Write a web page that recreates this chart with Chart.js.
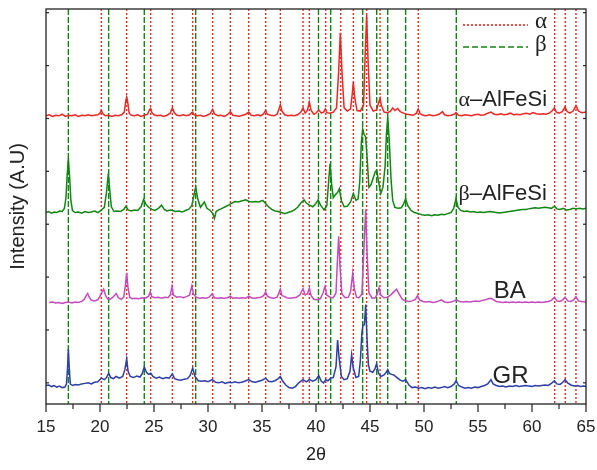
<!DOCTYPE html>
<html>
<head>
<meta charset="utf-8">
<title>XRD patterns</title>
<script src="https://cdn.jsdelivr.net/npm/chart.js"></script>
<style>
  body { margin: 0; background: #fff; }
</style>
</head>
<body>
<canvas id="xrd" width="597" height="470"></canvas>
<script>
// 2theta / intensity pairs (intensity in offset units)
const alphaPts = [
  [15.0,5.05],[15.3,5.07],[15.6,5.04],[15.9,5.06],[16.2,5.05],[16.5,5.08],[16.8,5.04],[17.1,5.06],[17.4,5.05],[17.7,5.07],
  [18.0,5.04],[18.3,5.06],[18.6,5.05],[18.9,5.07],[19.2,5.05],[19.5,5.06],[19.8,5.07],[20.0,5.10],[20.12,5.15],[20.3,5.08],
  [20.5,5.05],[20.8,5.06],[21.1,5.04],[21.4,5.06],[21.7,5.05],[22.0,5.07],[22.25,5.12],[22.4,5.35],[22.47,5.40],[22.55,5.33],
  [22.7,5.10],[22.9,5.06],[23.2,5.05],[23.5,5.07],[23.8,5.04],[24.1,5.06],[24.4,5.08],[24.6,5.17],[24.69,5.19],[24.8,5.11],
  [25.0,5.07],[25.3,5.05],[25.6,5.06],[25.9,5.04],[26.2,5.06],[26.5,5.10],[26.7,5.20],[26.85,5.12],[27.1,5.06],[27.4,5.05],
  [27.7,5.07],[28.0,5.05],[28.3,5.07],[28.5,5.11],[28.58,5.12],[28.7,5.07],[29.0,5.05],[29.3,5.06],[29.6,5.04],[29.9,5.06],
  [30.2,5.09],[30.43,5.17],[30.6,5.09],[30.9,5.05],[31.2,5.06],[31.5,5.04],[31.8,5.07],[32.07,5.13],[32.3,5.06],[32.6,5.05],
  [32.9,5.04],[33.2,5.06],[33.5,5.08],[33.77,5.12],[34.0,5.06],[34.3,5.05],[34.6,5.07],[34.9,5.05],[35.15,5.09],[35.34,5.15],
  [35.5,5.08],[35.8,5.06],[36.1,5.05],[36.4,5.08],[36.6,5.20],[36.7,5.26],[36.85,5.14],[37.1,5.07],[37.4,5.05],[37.7,5.06],
  [38.0,5.05],[38.3,5.07],[38.6,5.12],[38.8,5.20],[39.0,5.10],[39.2,5.15],[39.38,5.31],[39.55,5.15],[39.8,5.08],[40.0,5.10],
  [40.25,5.16],[40.5,5.10],[40.7,5.12],[40.86,5.18],[41.0,5.11],[41.3,5.10],[41.6,5.12],[41.9,5.20],[42.1,5.90],[42.25,6.62],
  [42.4,5.90],[42.6,5.20],[42.9,5.14],[43.2,5.18],[43.35,5.45],[43.46,5.69],[43.58,5.40],[43.8,5.15],[44.1,5.14],[44.4,5.25],
  [44.55,6.20],[44.69,6.96],[44.82,6.10],[45.0,5.25],[45.3,5.14],[45.6,5.16],[45.8,5.30],[45.93,5.38],[46.05,5.25],[46.3,5.12],
  [46.6,5.11],[46.9,5.14],[47.1,5.20],[47.3,5.15],[47.56,5.19],[47.8,5.13],[48.1,5.10],[48.4,5.08],[48.7,5.07],[49.0,5.06],
  [49.3,5.10],[49.47,5.18],[49.65,5.09],[49.9,5.06],[50.2,5.05],[50.5,5.07],[50.8,5.05],[51.1,5.06],[51.4,5.08],[51.7,5.13],
  [51.9,5.07],[52.2,5.05],[52.5,5.06],[52.8,5.08],[52.96,5.11],[53.2,5.06],[53.5,5.05],[53.8,5.07],[54.1,5.06],[54.4,5.05],
  [54.7,5.07],[55.0,5.08],[55.3,5.06],[55.6,5.07],[55.9,5.10],[56.2,5.12],[56.5,5.08],[56.8,5.07],[57.1,5.09],[57.4,5.07],
  [57.7,5.08],[58.0,5.10],[58.3,5.07],[58.6,5.08],[58.9,5.07],[59.2,5.09],[59.5,5.10],[59.8,5.08],[60.1,5.11],[60.4,5.09],
  [60.7,5.08],[61.0,5.09],[61.3,5.08],[61.6,5.10],[61.9,5.15],[62.07,5.20],[62.25,5.12],[62.5,5.10],[62.8,5.13],[63.06,5.22],
  [63.25,5.13],[63.5,5.10],[63.8,5.14],[64.07,5.24],[64.3,5.14],[64.6,5.11],[65.0,5.12]
];
const betaPts = [
  [15.0,3.22],[15.25,3.24],[15.5,3.21],[15.75,3.23],[16.0,3.22],[16.25,3.25],[16.5,3.24],[16.7,3.30],[16.85,3.50],[16.95,3.90],
  [17.07,4.24],[17.2,3.85],[17.3,3.45],[17.45,3.26],[17.7,3.22],[18.0,3.23],[18.3,3.21],[18.6,3.24],[18.9,3.22],[19.2,3.23],
  [19.5,3.25],[19.8,3.22],[20.1,3.26],[20.4,3.32],[20.6,3.60],[20.77,3.96],[20.9,3.65],[21.05,3.33],[21.3,3.24],[21.6,3.25],
  [21.9,3.24],[22.2,3.28],[22.4,3.34],[22.6,3.27],[22.9,3.25],[23.2,3.27],[23.5,3.26],[23.8,3.33],[24.04,3.47],[24.25,3.38],
  [24.5,3.32],[24.8,3.28],[25.1,3.26],[25.4,3.30],[25.7,3.36],[25.95,3.28],[26.2,3.25],[26.5,3.27],[26.7,3.26],[27.0,3.24],
  [27.3,3.25],[27.6,3.23],[27.9,3.26],[28.2,3.28],[28.5,3.35],[28.7,3.55],[28.86,3.70],[29.05,3.48],[29.3,3.32],[29.66,3.42],
  [29.9,3.30],[30.2,3.26],[30.45,3.20],[30.6,3.11],[30.75,3.24],[31.0,3.27],[31.3,3.30],[31.6,3.33],[31.9,3.36],[32.2,3.40],
  [32.5,3.43],[32.8,3.42],[33.1,3.44],[33.5,3.46],[33.8,3.43],[34.1,3.42],[34.4,3.43],[34.7,3.42],[35.06,3.45],[35.3,3.40],
  [35.6,3.33],[35.9,3.28],[36.2,3.25],[36.5,3.24],[36.8,3.22],[37.1,3.20],[37.4,3.22],[37.7,3.24],[38.0,3.27],[38.3,3.32],
  [38.6,3.40],[38.9,3.46],[39.1,3.40],[39.4,3.36],[39.7,3.33],[39.95,3.38],[40.2,3.46],[40.45,3.35],[40.75,3.27],[41.0,3.35],
  [41.15,3.75],[41.3,4.14],[41.45,3.75],[41.6,3.50],[41.8,3.56],[42.0,3.60],[42.16,3.67],[42.35,3.45],[42.6,3.33],[42.9,3.34],
  [43.2,3.42],[43.46,3.58],[43.7,3.45],[43.9,3.48],[44.05,3.80],[44.2,4.55],[44.32,4.80],[44.45,4.70],[44.6,4.65],[44.75,4.20],
  [44.9,3.70],[45.1,3.75],[45.3,3.88],[45.5,4.00],[45.62,4.02],[45.8,3.80],[46.0,3.58],[46.2,3.70],[46.4,4.10],[46.52,4.70],
  [46.64,5.02],[46.78,4.60],[46.95,3.85],[47.1,3.45],[47.3,3.32],[47.6,3.30],[47.9,3.31],[48.1,3.38],[48.3,3.48],[48.5,3.35],
  [48.8,3.26],[49.1,3.22],[49.5,3.20],[49.8,3.18],[50.1,3.17],[50.4,3.18],[50.7,3.16],[51.0,3.18],[51.3,3.17],[51.6,3.19],
  [51.9,3.18],[52.2,3.20],[52.5,3.22],[52.75,3.30],[52.96,3.48],[53.15,3.32],[53.4,3.26],[53.7,3.24],[54.0,3.25],[54.3,3.23],
  [54.6,3.24],[54.9,3.22],[55.2,3.23],[55.5,3.22],[55.8,3.23],[56.1,3.24],[56.4,3.23],[56.7,3.22],[57.0,3.21],[57.3,3.22],
  [57.6,3.23],[57.9,3.24],[58.2,3.25],[58.5,3.26],[58.8,3.27],[59.1,3.28],[59.4,3.28],[59.7,3.29],[60.0,3.30],[60.3,3.31],
  [60.6,3.30],[60.9,3.31],[61.2,3.32],[61.5,3.31],[61.8,3.30],[62.07,3.34],[62.3,3.29],[62.6,3.28],[62.9,3.30],[63.2,3.27],
  [63.5,3.28],[63.8,3.30],[64.1,3.29],[64.4,3.30],[64.7,3.29],[65.0,3.30]
];
const baPts = [
  [15.3,1.52],[15.6,1.53],[15.9,1.51],[16.2,1.52],[16.5,1.50],[16.8,1.52],[17.1,1.53],[17.4,1.51],[17.7,1.53],[18.0,1.52],
  [18.3,1.54],[18.55,1.58],[18.75,1.66],[18.86,1.69],[19.0,1.62],[19.2,1.56],[19.5,1.55],[19.8,1.57],[20.0,1.64],[20.15,1.70],
  [20.34,1.77],[20.5,1.66],[20.7,1.59],[20.95,1.58],[21.2,1.62],[21.5,1.69],[21.7,1.61],[21.95,1.58],[22.2,1.62],[22.35,1.85],
  [22.47,2.08],[22.58,1.82],[22.75,1.62],[23.0,1.59],[23.3,1.60],[23.6,1.59],[23.9,1.61],[24.2,1.60],[24.5,1.64],[24.66,1.72],
  [24.8,1.63],[25.1,1.61],[25.4,1.62],[25.7,1.60],[26.0,1.62],[26.3,1.61],[26.5,1.66],[26.67,1.82],[26.8,1.66],[27.1,1.62],
  [27.4,1.63],[27.7,1.61],[28.0,1.63],[28.3,1.66],[28.5,1.83],[28.65,1.68],[28.9,1.62],[29.2,1.60],[29.5,1.61],[29.8,1.60],
  [30.1,1.62],[30.37,1.68],[30.6,1.61],[30.9,1.60],[31.2,1.61],[31.5,1.60],[31.8,1.61],[32.07,1.64],[32.3,1.60],[32.6,1.61],
  [32.9,1.60],[33.2,1.61],[33.5,1.60],[33.77,1.64],[34.0,1.61],[34.3,1.60],[34.6,1.61],[34.9,1.62],[35.15,1.65],[35.34,1.72],
  [35.5,1.64],[35.8,1.61],[36.1,1.60],[36.4,1.62],[36.6,1.72],[36.7,1.77],[36.85,1.65],[37.0,1.64],[37.3,1.61],[37.6,1.60],
  [37.9,1.61],[38.2,1.62],[38.5,1.66],[38.8,1.78],[39.0,1.66],[39.2,1.68],[39.38,1.79],[39.55,1.65],[39.8,1.58],[40.1,1.57],
  [40.4,1.59],[40.65,1.70],[40.83,1.82],[41.0,1.66],[41.3,1.62],[41.6,1.61],[41.85,1.70],[41.98,2.30],[42.1,2.77],[42.22,2.20],
  [42.4,1.68],[42.7,1.61],[43.0,1.62],[43.2,1.72],[43.4,2.07],[43.55,1.78],[43.75,1.62],[44.0,1.61],[44.25,1.68],[44.45,2.60],
  [44.6,3.28],[44.72,2.50],[44.9,1.70],[45.2,1.60],[45.5,1.61],[45.7,1.70],[45.84,1.80],[46.0,1.66],[46.3,1.61],[46.6,1.62],
  [46.9,1.66],[47.2,1.72],[47.47,1.77],[47.7,1.68],[48.0,1.58],[48.3,1.55],[48.6,1.54],[48.9,1.55],[49.2,1.58],[49.4,1.65],
  [49.6,1.57],[49.9,1.54],[50.2,1.53],[50.5,1.54],[50.8,1.52],[51.1,1.53],[51.4,1.55],[51.6,1.57],[51.9,1.53],[52.2,1.52],
  [52.5,1.53],[52.8,1.55],[53.0,1.57],[53.3,1.54],[53.6,1.53],[53.9,1.54],[54.2,1.53],[54.5,1.54],[54.8,1.55],[55.1,1.54],
  [55.4,1.56],[55.7,1.57],[55.95,1.59],[56.2,1.60],[56.45,1.57],[56.7,1.54],[57.0,1.53],[57.3,1.52],[57.6,1.53],[57.9,1.52],
  [58.2,1.53],[58.5,1.52],[58.8,1.53],[59.1,1.52],[59.4,1.53],[59.7,1.52],[60.0,1.53],[60.3,1.52],[60.6,1.53],[60.9,1.52],
  [61.2,1.53],[61.5,1.54],[61.8,1.56],[62.07,1.62],[62.3,1.55],[62.6,1.54],[62.85,1.57],[63.06,1.62],[63.3,1.55],[63.6,1.54],
  [63.85,1.57],[64.07,1.63],[64.3,1.55],[64.6,1.54],[65.0,1.53]
];
const grPts = [
  [15.0,-0.05],[15.25,-0.04],[15.5,-0.07],[15.75,-0.05],[16.0,-0.08],[16.25,-0.06],[16.5,-0.09],[16.75,-0.08],[16.9,-0.02],[17.0,0.30],
  [17.07,0.64],[17.15,0.30],[17.25,-0.02],[17.45,-0.05],[17.7,-0.03],[18.0,-0.04],[18.3,-0.02],[18.6,-0.01],[18.9,0.00],[19.2,-0.02],
  [19.5,0.01],[19.8,0.02],[20.12,0.09],[20.4,0.06],[20.6,0.10],[20.8,0.18],[21.0,0.10],[21.25,0.08],[21.5,0.12],[21.8,0.09],
  [22.1,0.12],[22.3,0.25],[22.47,0.45],[22.6,0.22],[22.8,0.12],[23.1,0.10],[23.4,0.13],[23.7,0.11],[23.9,0.17],[24.1,0.30],
  [24.3,0.20],[24.5,0.16],[24.7,0.18],[24.9,0.12],[25.2,0.09],[25.5,0.11],[25.8,0.08],[26.1,0.10],[26.4,0.09],[26.7,0.17],
  [26.9,0.08],[27.2,0.06],[27.5,0.05],[27.8,0.07],[28.1,0.08],[28.35,0.14],[28.58,0.28],[28.8,0.12],[29.1,0.04],[29.4,0.03],
  [29.7,0.04],[30.0,0.02],[30.4,0.06],[30.7,0.01],[31.0,0.00],[31.3,0.02],[31.6,-0.01],[31.9,0.01],[32.2,0.00],[32.5,0.02],
  [32.8,0.00],[33.1,0.01],[33.4,0.03],[33.77,0.06],[34.1,0.02],[34.4,0.01],[34.7,0.03],[35.0,0.05],[35.34,0.09],[35.6,0.03],
  [35.9,0.02],[36.2,0.04],[36.5,0.08],[36.7,0.12],[36.9,0.04],[37.2,-0.04],[37.5,-0.09],[37.8,-0.10],[38.1,-0.07],[38.4,0.00],
  [38.8,0.06],[39.1,0.02],[39.38,0.06],[39.7,0.03],[40.0,0.06],[40.25,0.14],[40.5,0.03],[40.7,0.00],[40.9,0.06],[41.1,0.04],
  [41.36,0.09],[41.6,0.10],[41.85,0.30],[42.0,0.81],[42.15,0.45],[42.35,0.12],[42.6,0.06],[42.9,0.08],[43.15,0.22],[43.3,0.53],
  [43.45,0.28],[43.7,0.10],[43.95,0.12],[44.1,0.40],[44.25,0.95],[44.35,1.09],[44.48,1.10],[44.6,1.48],[44.72,0.85],[44.85,0.35],
  [45.0,0.22],[45.25,0.20],[45.45,0.26],[45.6,0.36],[45.8,0.18],[46.0,0.12],[46.3,0.15],[46.5,0.20],[46.64,0.25],[46.8,0.18],
  [47.0,0.16],[47.2,0.15],[47.5,0.10],[47.8,0.05],[48.05,0.03],[48.3,0.06],[48.6,-0.04],[48.9,-0.09],[49.2,-0.08],[49.5,-0.10],
  [49.8,-0.09],[50.1,-0.11],[50.4,-0.09],[50.7,-0.10],[51.0,-0.08],[51.3,-0.10],[51.6,-0.09],[51.9,-0.07],[52.2,-0.09],[52.5,-0.07],
  [52.8,-0.02],[52.98,0.04],[53.2,-0.05],[53.5,-0.08],[53.8,-0.10],[54.1,-0.09],[54.4,-0.10],[54.7,-0.08],[55.0,-0.09],[55.3,-0.07],
  [55.6,-0.05],[55.9,-0.02],[56.2,0.06],[56.4,-0.02],[56.7,-0.05],[57.0,-0.07],[57.3,-0.06],[57.6,-0.08],[57.9,-0.06],[58.2,-0.07],
  [58.5,-0.05],[58.8,-0.07],[59.1,-0.06],[59.4,-0.05],[59.7,-0.06],[60.0,-0.07],[60.3,-0.05],[60.6,-0.06],[60.9,-0.05],[61.2,-0.04],
  [61.5,-0.05],[61.8,-0.01],[62.07,0.04],[62.3,-0.02],[62.6,-0.03],[62.85,0.01],[63.06,0.06],[63.3,0.00],[63.6,-0.04],[63.9,-0.06],
  [64.2,-0.05],[64.5,-0.07],[64.8,-0.06],[65.0,-0.07]
];

// reference peak positions (vertical lines)
const alphaLines = [20.12, 22.47, 24.69, 26.7, 28.58, 30.43, 32.07, 33.77, 35.34, 36.7, 38.8, 39.38, 40.9, 42.29, 43.46, 44.69, 45.93, 49.47, 62.1, 63.08, 64.07];
const betaLines = [17.07, 20.8, 24.1, 28.86, 40.23, 41.36, 44.32, 45.62, 46.64, 48.3, 52.99];

const yTickVals = [0, 1, 2, 3, 4, 5, 6, 7];

const SANS = '"Liberation Sans", Arial, sans-serif';
const SERIF = '"Liberation Serif", "Times New Roman", serif';
const RED = 'rgb(236,40,36)';
const GREEN = 'rgb(16,135,16)';

const toXY = pts => pts.map(p => ({ x: p[0], y: p[1] }));

// labels next to each pattern: [greek part, rest, 2theta, intensity, size]
const curveLabels = [
  ['α', '–AlFeSi', 53.2, 5.24, 22],
  ['β', '–AlFeSi', 53.2, 3.45, 22],
  ['', 'BA', 56.45, 1.6, 24],
  ['', 'GR', 56.35, 0.0, 24]
];

const decor = {
  id: 'decor',
  beforeDatasetsDraw(chart) {
    const { ctx, chartArea: a, scales: { x } } = chart;
    ctx.save();
    ctx.lineWidth = 1.4;
    ctx.strokeStyle = RED;
    ctx.setLineDash([2, 2]);
    alphaLines.forEach(v => {
      const px = x.getPixelForValue(v);
      ctx.beginPath(); ctx.moveTo(px, a.top); ctx.lineTo(px, a.bottom); ctx.stroke();
    });
    ctx.strokeStyle = GREEN;
    ctx.setLineDash([6, 2]);
    betaLines.forEach(v => {
      const px = x.getPixelForValue(v);
      ctx.beginPath(); ctx.moveTo(px, a.top); ctx.lineTo(px, a.bottom); ctx.stroke();
    });
    ctx.restore();
  },
  afterDraw(chart) {
    const { ctx, chartArea: a, scales: { x, y } } = chart;
    ctx.save();
    // frame
    ctx.setLineDash([]);
    ctx.strokeStyle = '#222';
    ctx.lineWidth = 1.3;
    ctx.strokeRect(a.left, a.top, a.right - a.left, a.bottom - a.top);
    // x ticks (major every 5, minor in between), outward
    ctx.lineWidth = 1.2;
    for (let v = 15; v <= 65; v += 2.5) {
      const px = x.getPixelForValue(v);
      const len = v % 5 === 0 ? 8 : 5;
      ctx.beginPath(); ctx.moveTo(px, a.bottom); ctx.lineTo(px, a.bottom + len); ctx.stroke();
    }
    // y ticks, inward on both sides
    yTickVals.forEach(v => {
      const py = y.getPixelForValue(v);
      ctx.beginPath(); ctx.moveTo(a.left, py); ctx.lineTo(a.left + 3, py); ctx.stroke();
      ctx.beginPath(); ctx.moveTo(a.right, py); ctx.lineTo(a.right - 3, py); ctx.stroke();
    });
    // legend
    ctx.lineWidth = 1.6;
    ctx.strokeStyle = RED;
    ctx.setLineDash([2, 2]);
    ctx.beginPath(); ctx.moveTo(463, 25); ctx.lineTo(528, 25); ctx.stroke();
    ctx.strokeStyle = GREEN;
    ctx.setLineDash([6, 3]);
    ctx.beginPath(); ctx.moveTo(463, 47); ctx.lineTo(528, 47); ctx.stroke();
    ctx.setLineDash([]);
    ctx.fillStyle = '#222';
    ctx.font = '23px ' + SERIF;
    ctx.textBaseline = 'middle';
    ctx.textAlign = 'left';
    ctx.fillText('α', 535, 22);
    ctx.fillText('β', 535, 45);
    // curve labels
    ctx.textBaseline = 'alphabetic';
    curveLabels.forEach(([g, rest, vx, vy, size]) => {
      let px = x.getPixelForValue(vx);
      const py = y.getPixelForValue(vy);
      if (g) {
        ctx.font = size + 'px ' + SERIF;
        ctx.fillText(g, px, py);
        px += ctx.measureText(g).width;
      }
      ctx.font = size + 'px ' + SANS;
      ctx.fillText(rest, px, py);
    });
    ctx.restore();
  }
};

const line = (pts, color) => ({
  data: toXY(pts),
  borderColor: color,
  borderWidth: 1.5,
  pointRadius: 0,
  tension: 0,
  fill: false
});

new Chart(document.getElementById('xrd'), {
  type: 'line',
  data: {
    datasets: [
      line(alphaPts, RED),
      line(betaPts, GREEN),
      line(baPts, 'rgb(196,74,190)'),
      line(grPts, 'rgb(44,62,168)')
    ]
  },
  options: {
    responsive: false,
    animation: false,
    layout: { padding: { left: 0, right: 11, top: 9, bottom: 0 } },
    plugins: { legend: { display: false }, tooltip: { enabled: false } },
    scales: {
      x: {
        type: 'linear',
        min: 15, max: 65,
        grid: { display: false, drawTicks: false },
        border: { display: false },
        ticks: { stepSize: 5, padding: 13, color: '#222', font: { family: SANS, size: 17 } },
        title: { display: true, text: '2θ', color: '#222', font: { family: SANS, size: 18 }, padding: { top: 0, bottom: 4 } },
        afterFit: s => { s.height = 66; s.paddingLeft = 0; s.paddingRight = 0; }
      },
      y: {
        min: -0.4, max: 7.07,
        grid: { display: false, drawTicks: false },
        border: { display: false },
        ticks: { display: false },
        title: { display: true, text: 'Intensity (A.U)', color: '#222', font: { family: SANS, size: 20 }, padding: { top: 6, bottom: 0 } },
        afterFit: s => { s.width = 46; s.paddingTop = 0; s.paddingBottom = 0; }
      }
    }
  },
  plugins: [decor]
});
</script>
</body>
</html>
